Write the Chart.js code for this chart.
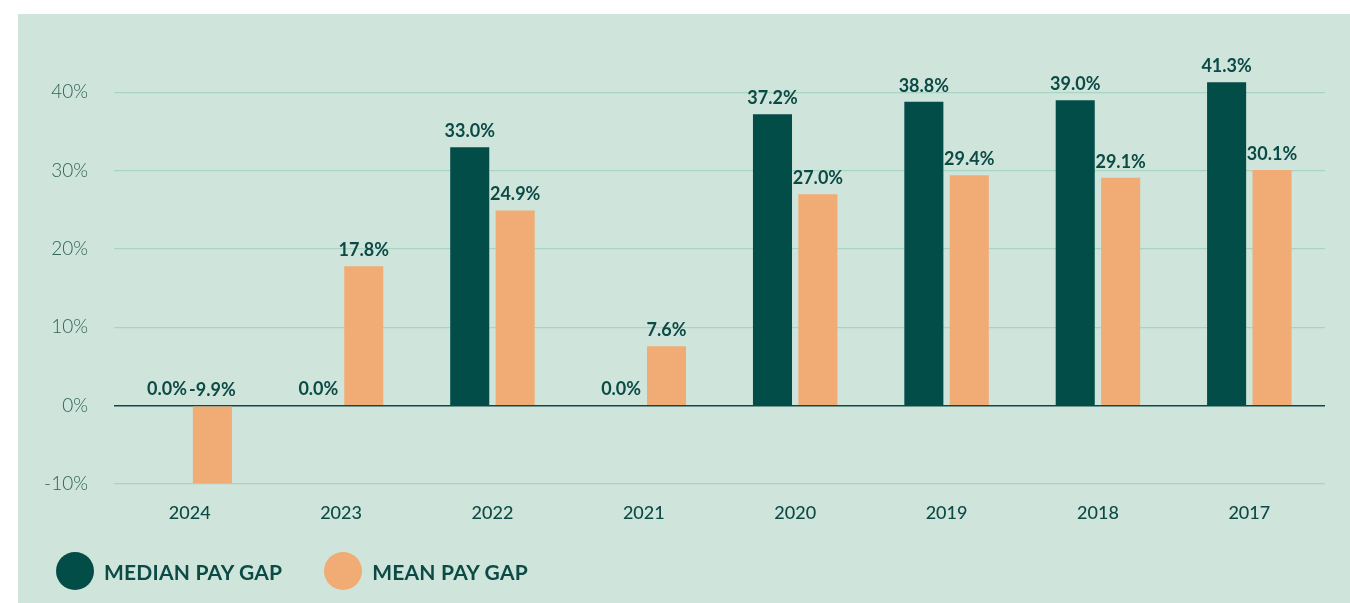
<!DOCTYPE html>
<html lang="en">
<head>
<meta charset="UTF-8">
<title>Pay Gap</title>
<script src="https://cdn.jsdelivr.net/npm/chart.js"></script>
<style>
body{margin:0;background:#fff;font-family:Lato,Arial,sans-serif}
.panel{position:absolute;left:18px;top:14px;width:1332px;height:589px;background:#cfe5dc}
.chart-wrap{position:absolute;left:0;top:0;width:1332px;height:540px}
.legend{position:absolute;left:38px;top:538px;display:flex;align-items:center}
.legend .item{display:flex;align-items:center;margin-right:42px}
.legend .dot{width:38px;height:38px;border-radius:50%;margin-right:10px}
.legend .txt{font:bold 21px Lato,Arial,sans-serif;color:#0b4a45;letter-spacing:.2px}
</style>
</head>
<body>
<div class="panel">
  <div class="chart-wrap"><canvas id="chart"></canvas></div>
  <div class="legend" id="legend"></div>
</div>
<script>
const years=['2024','2023','2022','2021','2020','2019','2018','2017'];
const medianGap=[0.0,0.0,33.0,0.0,37.2,38.8,39.0,41.3];
const meanGap=[-9.9,17.8,24.9,7.6,27.0,29.4,29.1,30.1];
const yTicks=[-10,0,10,20,30,40];
const seriesNames=['MEDIAN PAY GAP','MEAN PAY GAP'];
const colors=['#034d48','#f0ac74'];

const valueLabels={
  id:'valueLabels',
  afterDatasetsDraw(chart){
    const ctx=chart.ctx;
    ctx.save();
    ctx.font='bold 18px Lato, Arial, sans-serif';
    ctx.fillStyle='#0b4a45';
    ctx.textAlign='center';
    ctx.textBaseline='bottom';
    chart.data.datasets.forEach((ds,i)=>{
      chart.getDatasetMeta(i).data.forEach((bar,j)=>{
        const y=Math.min(bar.y,bar.base)-7;
        ctx.fillText(ds.data[j].toFixed(1)+'%',bar.x,y);
      });
    });
    ctx.restore();
  }
};

new Chart(document.getElementById('chart'),{
  type:'bar',
  data:{labels:years,datasets:[
    {label:seriesNames[0],data:medianGap,backgroundColor:colors[0]},
    {label:seriesNames[1],data:meanGap,backgroundColor:colors[1]}
  ]},
  options:{
    responsive:true,maintainAspectRatio:false,animation:false,
    categoryPercentage:0.6,barPercentage:0.86,
    layout:{padding:{top:47,right:25,bottom:30,left:0}},
    plugins:{legend:{display:false},tooltip:{enabled:false}},
    scales:{
      x:{
        grid:{display:false},border:{display:false},
        ticks:{color:'#0b4a45',padding:10,font:{family:'Lato',size:18,weight:'500'}},
        afterFit(s){s.height=40;}
      },
      y:{
        min:-10,max:44,
        afterBuildTicks(s){s.ticks=yTicks.map(v=>({value:v}));},
        grid:{drawTicks:false,color:c=>c.tick&&c.tick.value===0?'#0d4a45':'#a8d5c3',lineWidth:c=>c.tick&&c.tick.value===0?1.5:1.2},
        border:{display:false},
        ticks:{color:'#2f6357',padding:26,font:{family:'Lato',size:19,weight:'300'},callback:v=>v+'%'},
        afterFit(s){s.width=96;}
      }
    }
  },
  plugins:[valueLabels]
});

const lg=document.getElementById('legend');
seriesNames.forEach((n,i)=>{
  const it=document.createElement('div');it.className='item';
  it.innerHTML='<span class="dot" style="background:'+colors[i]+'"></span><span class="txt">'+n+'</span>';
  lg.appendChild(it);
});
</script>
</body>
</html>
